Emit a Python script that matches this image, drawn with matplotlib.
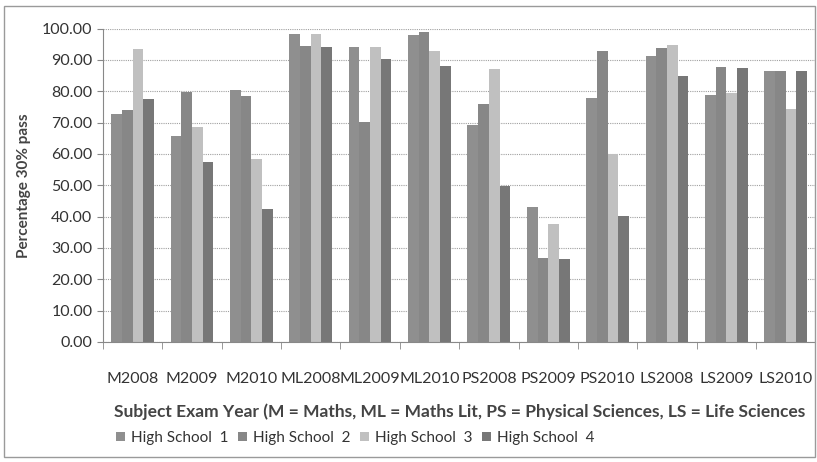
import numpy as np
import matplotlib.pyplot as plt

categories = ['M2008', 'M2009', 'M2010', 'ML2008', 'ML2009', 'ML2010',
              'PS2008', 'PS2009', 'PS2010', 'LS2008', 'LS2009', 'LS2010']
school1 = [72.9, 65.6, 80.5, 98.3, 94.2, 98.1, 69.1, 43.0, 78.0, 91.2, 78.9, 86.6]
school2 = [73.9, 79.9, 78.6, 94.3, 70.1, 99.0, 75.8, 26.9, 93.0, 93.8, 87.6, 86.6]
school3 = [93.6, 68.6, 58.3, 98.3, 94.2, 92.9, 87.1, 37.7, 60.0, 94.8, 79.6, 74.4]
school4 = [77.6, 57.5, 42.5, 94.2, 90.2, 88.0, 49.9, 26.3, 40.1, 84.8, 87.5, 86.4]
series = [school1, school2, school3, school4]
labels = ['High School  1', 'High School  2', 'High School  3', 'High School  4']
colors = ['#8f8f8f', '#878787', '#c0c0c0', '#777777']

plt.rcParams['font.family'] = ['Lato', 'DejaVu Sans']

fig = plt.figure(figsize=(8.17, 4.62), dpi=100)
# outer chart border
fig.patches.append(plt.Rectangle((0.005, 0.01), 0.993, 0.978, transform=fig.transFigure,
                                 fill=False, edgecolor='#9a9a9a', linewidth=1.0))
ax = fig.add_axes([0.126, 0.26, 0.872, 0.678])

x = np.arange(len(categories))
w = 0.18
for i, (vals, lab, col) in enumerate(zip(series, labels, colors)):
    ax.bar(x + (i - 1.5) * w, vals, w, color=col, label=lab, zorder=2)

ax.set_xlim(-0.5, len(categories) - 0.5)
ax.set_ylim(0, 100)
ax.set_yticks(np.arange(0, 101, 10))
ax.set_yticklabels([f'{v:.2f}' for v in range(0, 101, 10)], fontsize=11.5, color='#333333')
ax.yaxis.grid(True, color='#a0a0a0', linestyle=(0, (1, 1)), linewidth=0.8, zorder=0)
ax.set_axisbelow(True)

ax.set_xticks(x)
ax.set_xticklabels(categories, fontsize=11.5, color='#333333')
ax.tick_params(axis='x', length=0, pad=22)
ax.set_xticks(np.arange(-0.5, len(categories)), minor=True)
ax.tick_params(axis='x', which='minor', length=5, color='#888888')
ax.tick_params(axis='y', length=4, color='#888888')

for s in ['top', 'right']:
    ax.spines[s].set_visible(False)
ax.spines['left'].set_color('#888888')
ax.spines['bottom'].set_color('#888888')

ax.set_ylabel('Percentage 30% pass', fontsize=11, fontweight='bold', color='#444444', labelpad=8)
ax.set_xlabel('Subject Exam Year (M = Maths, ML = Maths Lit, PS = Physical Sciences, LS = Life Sciences',
              fontsize=12.5, fontweight='bold', color='#444444', labelpad=12)

ax.legend(loc='upper center', bbox_to_anchor=(0.354, -0.24), ncol=4, frameon=False,
          fontsize=11, handlelength=0.6, handleheight=0.6, handletextpad=0.4,
          columnspacing=0.6, labelcolor='#333333')

fig.savefig('out.png', dpi=100)
